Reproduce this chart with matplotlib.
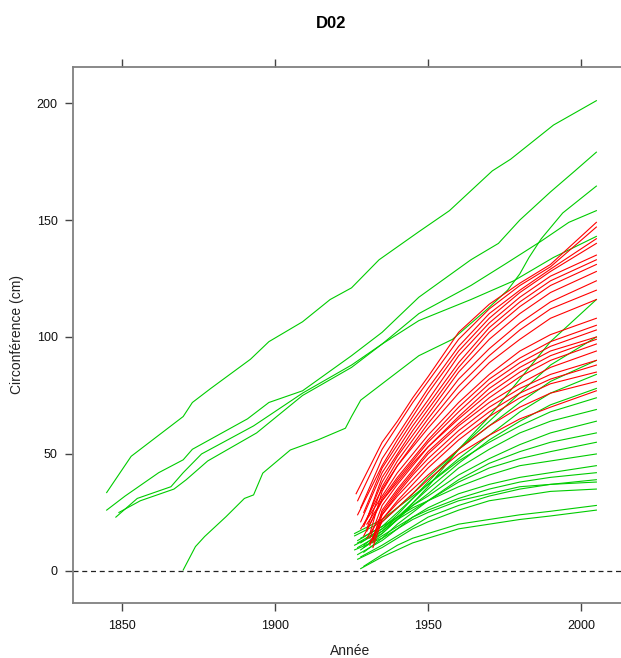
import matplotlib
matplotlib.use("Agg")
import matplotlib.pyplot as plt

plt.rcParams['font.family'] = ['Liberation Sans', 'DejaVu Sans']

# old trees (green)
old_years = [
    [1845, 1853, 1859, 1870, 1873, 1879, 1892, 1898, 1909, 1918, 1925, 1934, 1947, 1957, 1971, 1977, 1991, 2005],
    [1845, 1851, 1862, 1870, 1873, 1891, 1898, 1909, 1925, 1935, 1947, 1964, 1973, 1980, 1990, 1998, 2005],
    [1848, 1855, 1866, 1870, 1876, 1893, 1909, 1925, 1935, 1947, 1964, 1975, 1987, 1996, 2005],
    [1849, 1856, 1867, 1871, 1878, 1894, 1909, 1925, 1935, 1947, 1964, 1978, 1991, 2005],
    [1870, 1874, 1877, 1884, 1890, 1893, 1896, 1905, 1914, 1923, 1925, 1928, 1947, 1958, 1969, 1976, 1980, 1983, 1987, 1994, 2005],
]
old_vals = [
    [33.5, 49, 55, 66, 72, 78, 90.5, 98, 106.5, 116, 121, 133, 145, 154, 171, 176, 190.6, 201],
    [26, 32, 42, 47.5, 52, 65, 72, 77, 92, 102, 117, 133, 140, 150, 162, 171, 179],
    [23, 31, 36, 42, 50, 62, 76, 88, 97, 110, 122, 131, 141, 149, 154],
    [25, 30, 35, 39, 47, 59, 75, 87, 97, 107, 116, 124, 134, 143],
    [0.4, 10.4, 14.7, 23.2, 31, 32.5, 41.8, 51.7, 56, 61, 66, 73, 92, 99, 111.5, 120, 127, 134, 142, 153, 164.5],
]

# young trees: first year / first value, then values on a shared grid
young_grid = [1935, 1940, 1945, 1950, 1960, 1970, 1980, 1990, 2005]

green_start = [1927, 1928, 1926, 1927, 1929, 1926, 1928, 1927, 1929, 1926,
               1928, 1927, 1929, 1926, 1928, 1927, 1929, 1928]
green_first = [10, 12, 15, 13, 11, 16, 9, 12, 8, 11, 14, 7, 10, 9, 6, 5, 2, 1]
green_vals = [
    [16, 22, 29, 36, 52, 66, 82, 98, 116],
    [18, 24, 31, 38, 52, 64, 76, 88, 100],
    [21, 27, 33, 40, 52, 62, 72, 81, 90],
    [19, 25, 31, 37, 48, 58, 68, 76, 84],
    [17, 23, 29, 35, 46, 56, 64, 71, 78],
    [22, 27, 32, 37, 47, 55, 62, 68, 74],
    [16, 22, 28, 33, 44, 52, 59, 64, 69],
    [18, 23, 28, 32, 41, 48, 54, 59, 64],
    [14, 20, 25, 30, 39, 46, 51, 55, 59],
    [17, 22, 26, 30, 38, 44, 48, 51, 55],
    [19, 23, 27, 30, 36, 41, 45, 47, 50],
    [13, 18, 23, 27, 33, 37, 40, 42, 45],
    [15, 19, 23, 26, 31, 35, 38, 40, 42],
    [14, 18, 22, 25, 30, 33, 36, 37, 39],
    [11, 15, 19, 23, 28, 32, 35, 37, 38],
    [10, 14, 18, 21, 26, 30, 32, 34, 35],
    [7, 11, 14, 16, 20, 22, 24, 25.5, 28],
    [6, 9, 12, 14, 18, 20, 22, 23.5, 26],
]

red_start = [1926.5, 1927, 1928, 1927, 1929, 1928, 1930, 1929, 1930, 1931, 1929,
             1928, 1930, 1929, 1931, 1930, 1932, 1931, 1932, 1930, 1932, 1931, 1931]
red_first = [33, 30, 27, 24, 25, 21, 22, 19, 18, 16, 20,
             18, 17, 15, 14, 20, 13, 11, 12, 14, 10, 12, 12]
red_vals = [
    [55, 64, 74, 83, 102, 114, 123, 131, 149],
    [52, 62, 72, 81, 99, 112, 122, 130, 147],
    [48, 58, 68, 78, 96, 110, 120, 129, 142],
    [45, 56, 66, 76, 94, 108, 119, 128, 140],
    [44, 54, 64, 73, 92, 106, 117, 126, 135],
    [42, 52, 62, 71, 89, 104, 115, 124, 133],
    [40, 50, 60, 69, 87, 102, 113, 122, 131],
    [38, 49, 58, 67, 85, 99, 110, 119, 128],
    [36, 47, 56, 65, 82, 95, 106, 115, 124],
    [34, 45, 54, 63, 79, 92, 103, 112, 120],
    [35, 45, 53, 61, 76, 89, 99, 108, 116],
    [32, 42, 50, 58, 72, 84, 94, 101, 108],
    [31, 40, 48, 56, 70, 82, 91, 98, 105],
    [30, 39, 47, 55, 68, 80, 89, 96, 103],
    [28, 37, 45, 53, 66, 78, 87, 94, 100],
    [30, 38, 46, 53, 65, 76, 85, 92, 99],
    [26, 35, 43, 51, 63, 74, 83, 90, 97],
    [25, 34, 42, 50, 62, 72, 80, 87, 94],
    [24, 33, 41, 48, 60, 70, 78, 84, 90],
    [24, 32, 39, 46, 58, 68, 76, 82, 88],
    [22, 30, 37, 44, 56, 66, 74, 80, 85],
    [22, 29, 35, 41, 52, 62, 70, 76, 81],
    [21, 27, 33, 39, 50, 58, 65, 70, 77],
]

x_ticks = [1850, 1900, 1950, 2000]
y_ticks = [0, 50, 100, 150, 200]

green = '#00cc00'
red = '#ff0000'

W, H = 621, 658
fig = plt.figure(figsize=(W / 100, H / 100), dpi=100)
ax = fig.add_axes([73 / W, 1 - 603 / H, 550 / W, 536 / H])

for yrs, vals in zip(old_years, old_vals):
    ax.plot(yrs, vals, color=green, lw=0.8)
for s, f, vals in zip(green_start, green_first, green_vals):
    ax.plot([s] + young_grid, [f] + vals, color=green, lw=0.8)
for s, f, vals in zip(red_start, red_first, red_vals):
    ax.plot([s] + young_grid, [f] + vals, color=red, lw=0.8)

ax.axhline(0, color='#222222', lw=0.9, ls=(0, (4, 3)))

ax.set_xlim(1834.0, 2013.7)
ax.set_ylim(-13.7, 215.4)
ax.set_xticks(x_ticks)
ax.set_yticks(y_ticks)
ax.tick_params(axis='both', direction='out', length=6, width=1, colors='#444444',
               labelcolor='#111111', labelsize=9)
ax.tick_params(axis='x', top=True, labeltop=False, pad=6)
ax.tick_params(axis='y', right=False, pad=5)
for side in ['left', 'top', 'bottom']:
    ax.spines[side].set_color('#808080')
    ax.spines[side].set_linewidth(1.3)
ax.spines['right'].set_visible(False)

fig.text(331 / W, 1 - 24 / H, 'D02', ha='center', va='center',
         fontsize=12, fontweight='bold')
fig.text(350 / W, 1 - 651 / H, 'Année', ha='center', va='center',
         fontsize=10, color='#222222')
fig.text(17 / W, 1 - 335 / H, 'Circonférence (cm)', ha='center', va='center',
         rotation=90, fontsize=10, color='#222222')

fig.savefig('out.png', dpi=100)
